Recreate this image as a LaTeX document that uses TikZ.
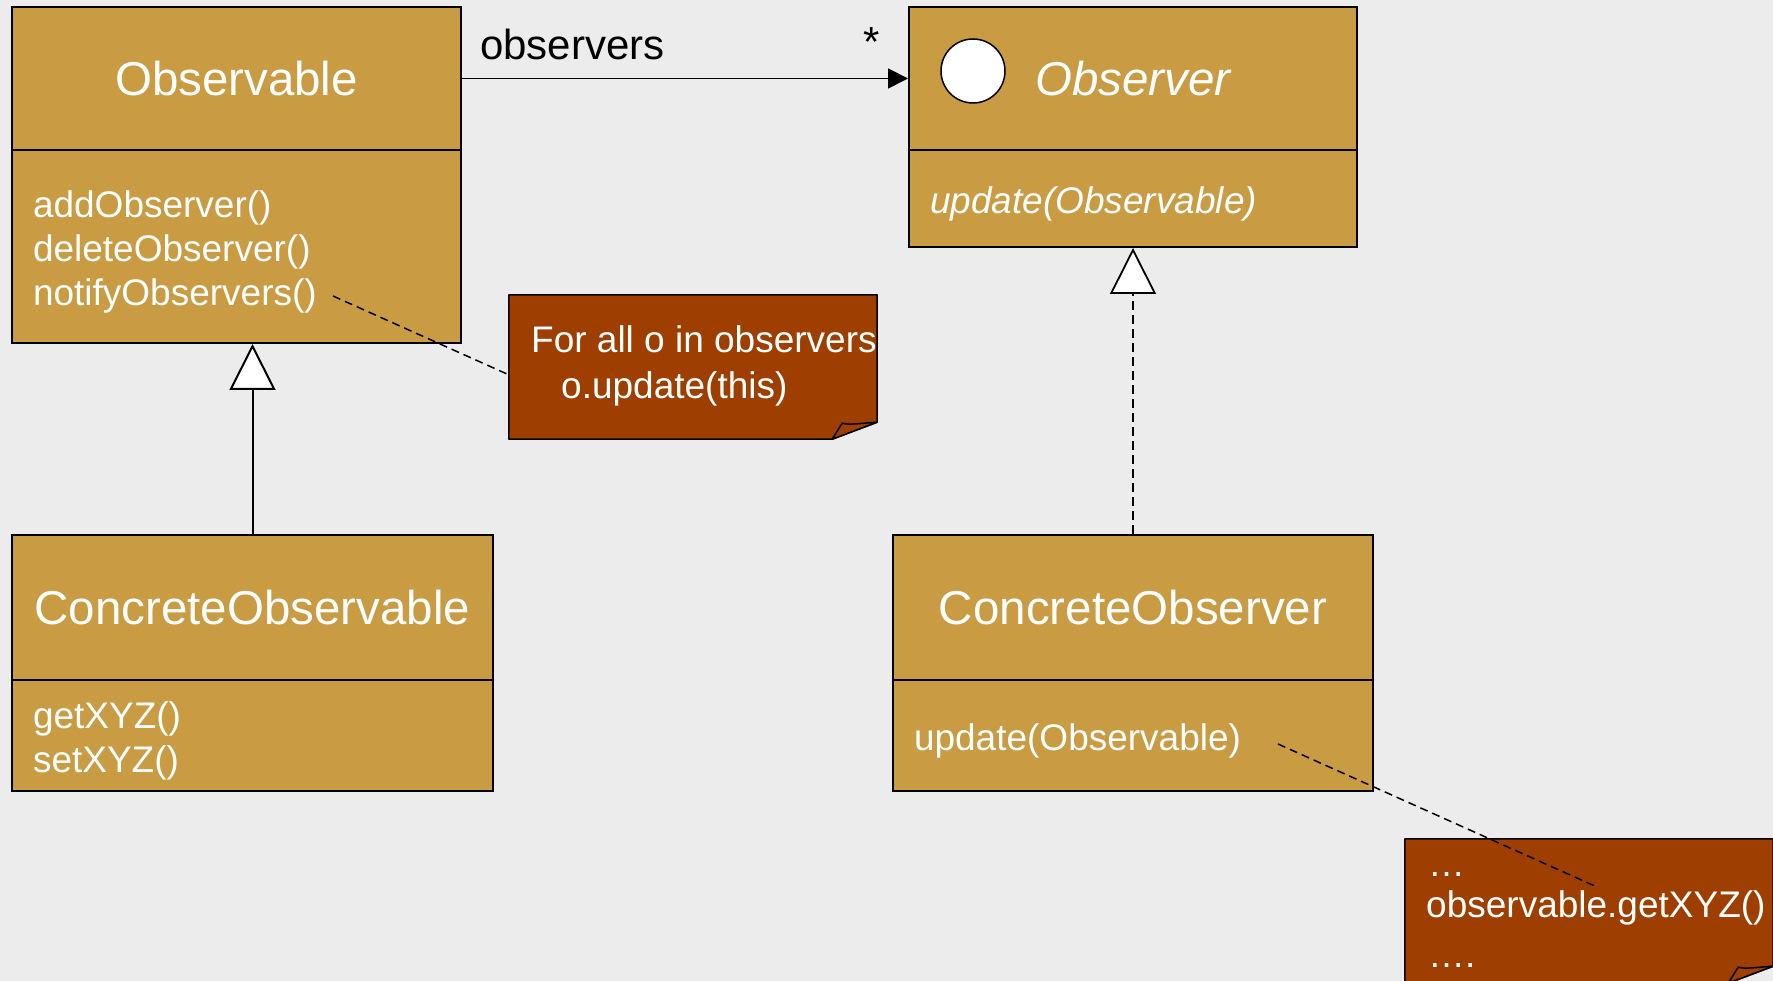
\documentclass[tikz,border=0pt]{standalone}
\usepackage{fontspec}
\setmainfont{Liberation Sans}
\usetikzlibrary{arrows.meta,calc}
\definecolor{bgcol}{RGB}{236,236,236}
\definecolor{boxfill}{RGB}{201,155,67}
\definecolor{notefill}{RGB}{158,62,0}
\begin{document}
\begin{tikzpicture}[x=1pt,y=-1pt,
  hdr/.style={draw=black, line width=2pt, fill=boxfill, text=white,
    font=\fontsize{47.5}{57}\selectfont, inner sep=0pt},
  meth/.style={draw=black, line width=2pt, fill=boxfill, text=white,
    font=\fontsize{37}{44}\selectfont, align=left, inner xsep=21pt, inner ysep=0pt,
    execute at begin node={\rule{0pt}{38.5pt}}},
  lbl/.style={text=black, font=\fontsize{42}{50}\selectfont, inner sep=0pt},
  ntext/.style={text=white, font=\fontsize{37}{44}\selectfont, inner sep=0pt},
  notebox/.style={inner sep=0pt, minimum width=368pt, minimum height=144pt},
  noteshape/.style={draw=black, line width=1.5pt, fill=notefill, line join=bevel},
  assoc/.style={draw=black, line width=1.8pt, -{Triangle[length=20pt,width=20pt]}},
  gen/.style={draw=black, line width=2pt, -{Triangle[length=46pt,width=46pt,fill=white]}},
  realz/.style={draw=black, line width=1.8pt, dash pattern=on 9pt off 5pt, -{Triangle[length=46pt,width=46pt,fill=white]}},
  dashln/.style={draw=black, line width=1.5pt, dash pattern=on 8pt off 5pt},
]
\useasboundingbox (0,0) rectangle (1773,981);
\clip (0,0) rectangle (1773,981);
\fill[bgcol] (0,0) rectangle (1773,981);

% Observable
\node[hdr, minimum width=449pt, minimum height=143pt] (obs) at (236.5,78.5) {Observable};
\node[meth, minimum width=449pt, minimum height=193pt, text width=407pt] (obsm) at (236.5,246.5)
  {addObserver()\\deleteObserver()\\notifyObservers()};

% Observer
\node[hdr, minimum width=448pt, minimum height=143pt] (ob) at (1133,78.5) {\itshape Observer};
\node[meth, minimum width=448pt, minimum height=97pt, text width=406pt] (obm) at (1133,198.5)
  {\itshape update(Observable)};
\node[circle, draw=black, line width=1.5pt, fill=white, minimum size=64pt, inner sep=0pt] (icon) at (973,71) {};

% ConcreteObservable
\node[hdr, minimum width=481pt, minimum height=145pt] (cob) at (252.5,607.5) {ConcreteObservable};
\node[meth, minimum width=481pt, minimum height=111pt, text width=439pt] (cobm) at (252.5,735.5)
  {getXYZ()\\setXYZ()};

% ConcreteObserver
\node[hdr, minimum width=480pt, minimum height=145pt] (cor) at (1133,607.5) {ConcreteObserver};
\node[meth, minimum width=480pt, minimum height=111pt, text width=438pt] (corm) at (1133,735.5)
  {update(Observable)};

% association
\draw[assoc] (obs.east) -- (ob.west);
\node[lbl, anchor=base west] (lobs) at (480,60) {observers};
\node[lbl, anchor=base] (lstar) at (872,57) {*};

% generalization / realization
\draw[gen] (cob.north) -- (cob.north |- obsm.south);
\draw[realz] (cor.north) -- (obm.south);

% note 1
\node[notebox] (n1) at (693,367) {};
\path[noteshape] (n1.north west) -- (n1.north east) -- ($(n1.south east)+(0,-17)$)
  -- ($(n1.south east)+(-45,0)$) -- (n1.south west) -- cycle;
\path[noteshape] ($(n1.south east)+(-45,0)$) -- ($(n1.south east)+(-35,-16)$)
  .. controls ($(n1.south east)+(-28,-14)$) and ($(n1.south east)+(-16,-16)$) .. ($(n1.south east)+(0,-17)$) -- cycle;
\node[ntext, anchor=base west] (t1a) at (531,353) {For all o in observers};
\node[ntext, anchor=base west] (t1b) at (561,399) {o.update(this)};
\coordinate (d1s) at (333,296);
\coordinate (d1e) at ($(n1.north west)+(0,80)$);
\draw[dashln] (d1s) -- (d1e);

% note 2
\node[notebox] (n2) at (1589,911) {};
\path[noteshape] (n2.north west) -- (n2.north east) -- ($(n2.south east)+(0,-17)$)
  -- ($(n2.south east)+(-45,0)$) -- (n2.south west) -- cycle;
\path[noteshape] ($(n2.south east)+(-45,0)$) -- ($(n2.south east)+(-35,-16)$)
  .. controls ($(n2.south east)+(-28,-14)$) and ($(n2.south east)+(-16,-16)$) .. ($(n2.south east)+(0,-17)$) -- cycle;
\node[ntext, anchor=base west] (t2a) at (1428,876.5) {…};
\node[ntext, anchor=base west] (t2b) at (1426,917) {observable.getXYZ()};
\node[ntext, anchor=base west] (t2c) at (1428,967) {….};
\coordinate (d2s) at (1278,744);
\coordinate (d2e) at (1597,887);
\draw[dashln] (d2s) -- (d2e);
\end{tikzpicture}
\end{document}
